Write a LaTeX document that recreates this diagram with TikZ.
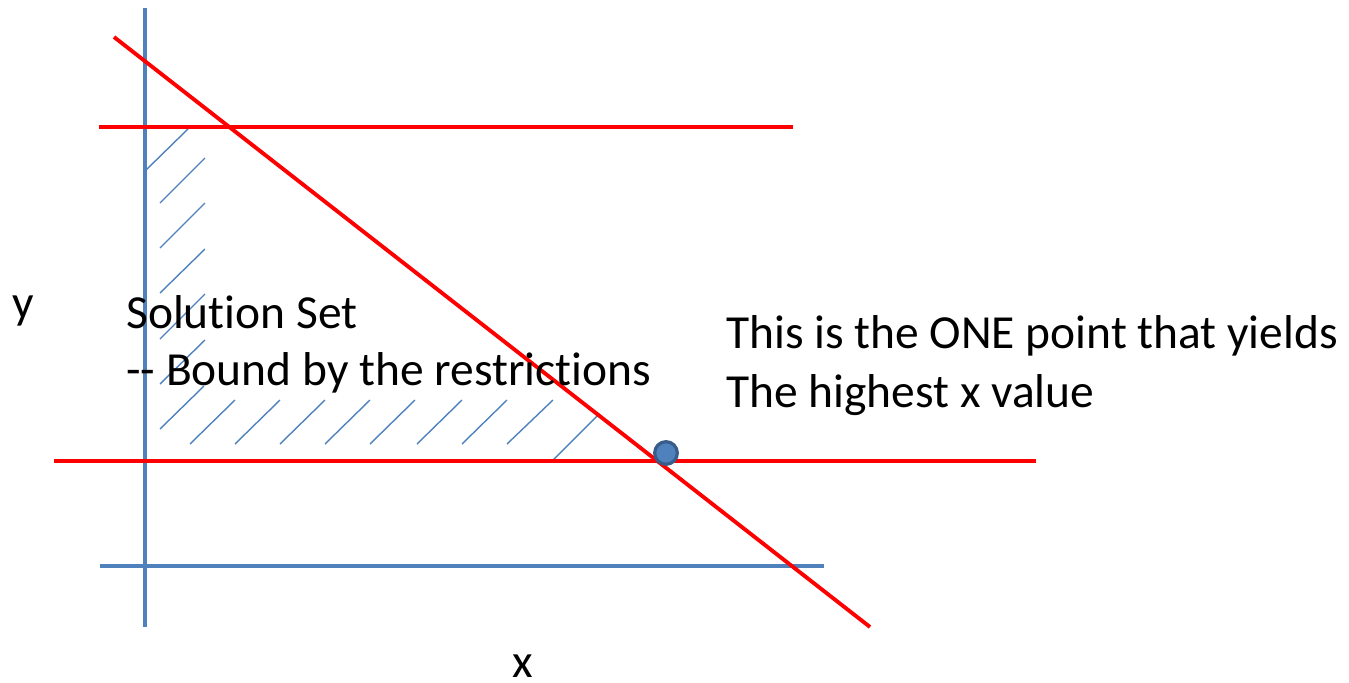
\documentclass[tikz,border=0pt]{standalone}
\usepackage{fontspec}
\setmainfont{Carlito}[Ligatures={NoCommon}]
\definecolor{axisblue}{HTML}{4F81BD}
\definecolor{dotedge}{HTML}{385D8A}
\definecolor{limred}{HTML}{FF0000}
\begin{document}
\begin{tikzpicture}[x=0.75pt,y=-0.75pt,
  axis/.style={draw=axisblue,line width=2.5pt},
  limit/.style={draw=limred,line width=2.9pt},
  hatch/.style={draw=axisblue,line width=1.05pt},
  lbl/.style={anchor=base west,inner sep=0pt,font=\fontsize{35.6pt}{43pt}\selectfont,align=left},
  dot/.style={circle,fill=axisblue,draw=dotedge,line width=2.4pt,minimum size=17pt,inner sep=0pt}]
\useasboundingbox (0,0) rectangle (1349,682);
% axes
\coordinate (yaT) at (145,8);
\coordinate (yaB) at (145,627);
\coordinate (xaL) at (100,566);
\coordinate (xaR) at (824,566);
\draw[axis] (yaT) -- (yaB);
\draw[axis] (xaL) -- (xaR);
% hatching
\foreach \a/\b/\c/\d in {145/171/189/128, 160/203/205/158, 160/248/205/203, 160/293/205/249,
  160/339/205/294, 160/384/205/340, 160/429/204/386,
  190/444/235/400, 235/444/280/400, 280/444/325/400, 325/444/370/400, 370/444/415/400,
  417/444/462/400, 462/444/507/400, 507/444/553/400, 553/460/598/415}
  \draw[hatch] (\a,\b) -- (\c,\d);
% restrictions
\coordinate (tL) at (99,127);
\coordinate (tR) at (793,127);
\coordinate (bL) at (54,461);
\coordinate (bR) at (1036,461);
\coordinate (dA) at (114,37);
\coordinate (dB) at (870,627);
\draw[limit] (tL) -- (tR);
\draw[limit] (bL) -- (bR);
\draw[limit] (dA) -- (dB);
% point
\node[dot] (pt) at (666,453) {};
% labels
\node[lbl] (ylab) at (12,318) {y};
\node[lbl] (xlab) at (512,677) {x};
\node[lbl] (sol) at (126,328) {Solution Set};
\node[lbl] (bnd) at (126,385) {{-}{-} Bound by the restrictions};
\node[lbl] (one) at (726,348) {This is the ONE point that yields};
\node[lbl] (high) at (726,407) {The highest x value};
\end{tikzpicture}
\end{document}
